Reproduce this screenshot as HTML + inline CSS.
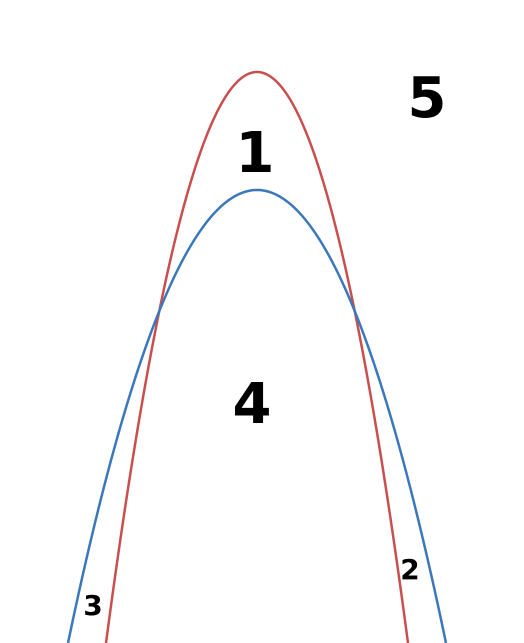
<!DOCTYPE html>
<html><head><meta charset="utf-8"><style>
html,body{margin:0;padding:0;background:#fff;width:524px;height:643px;overflow:hidden;}
svg{display:block;overflow:hidden;}
text{font-family:"DejaVu Sans","Liberation Sans",sans-serif;fill:#000;font-weight:bold;}
</style></head><body>
<svg id="chart" width="524" height="643" viewBox="0 0 524 643">
<g id="curves"></g>
<text x="255" y="172" font-size="56" text-anchor="middle">1</text>
<text x="427" y="117" font-size="56" text-anchor="middle">5</text>
<text x="252" y="423" font-size="56" text-anchor="middle">4</text>
<text x="410" y="579" font-size="28" text-anchor="middle">2</text>
<text x="93" y="615" font-size="28" text-anchor="middle">3</text>
</svg>
<script>
// curves: y = vertexY * (1 - ((x - vertexX)/halfWidth)^2), measured up from bottom edge
const curveNames = ["red-parabola", "blue-parabola"];
const curveColors = ["#c94f4f", "#3b78bb"];
const vertexX = [0, 0];
const vertexY = [571, 453];
const halfWidth = [151, 189];
const xScale = v => 257 + v;
const yScale = v => 643 - v;
const g = document.getElementById('curves');
for (let i = 0; i < curveNames.length; i++) {
  const pts = [];
  const hw = halfWidth[i];
  for (let k = 0; k <= 200; k++) {
    const x = -hw + (2 * hw * k) / 200;
    const t = (x - vertexX[i]) / halfWidth[i];
    const y = vertexY[i] * (1 - t * t);
    pts.push(xScale(x).toFixed(2) + ',' + yScale(y).toFixed(2));
  }
  const p = document.createElementNS('http://www.w3.org/2000/svg', 'polyline');
  p.setAttribute('points', pts.join(' '));
  p.setAttribute('fill', 'none');
  p.setAttribute('stroke', curveColors[i]);
  p.setAttribute('stroke-width', '2.5');
  
  
  g.appendChild(p);
}
</script>
</body></html>
